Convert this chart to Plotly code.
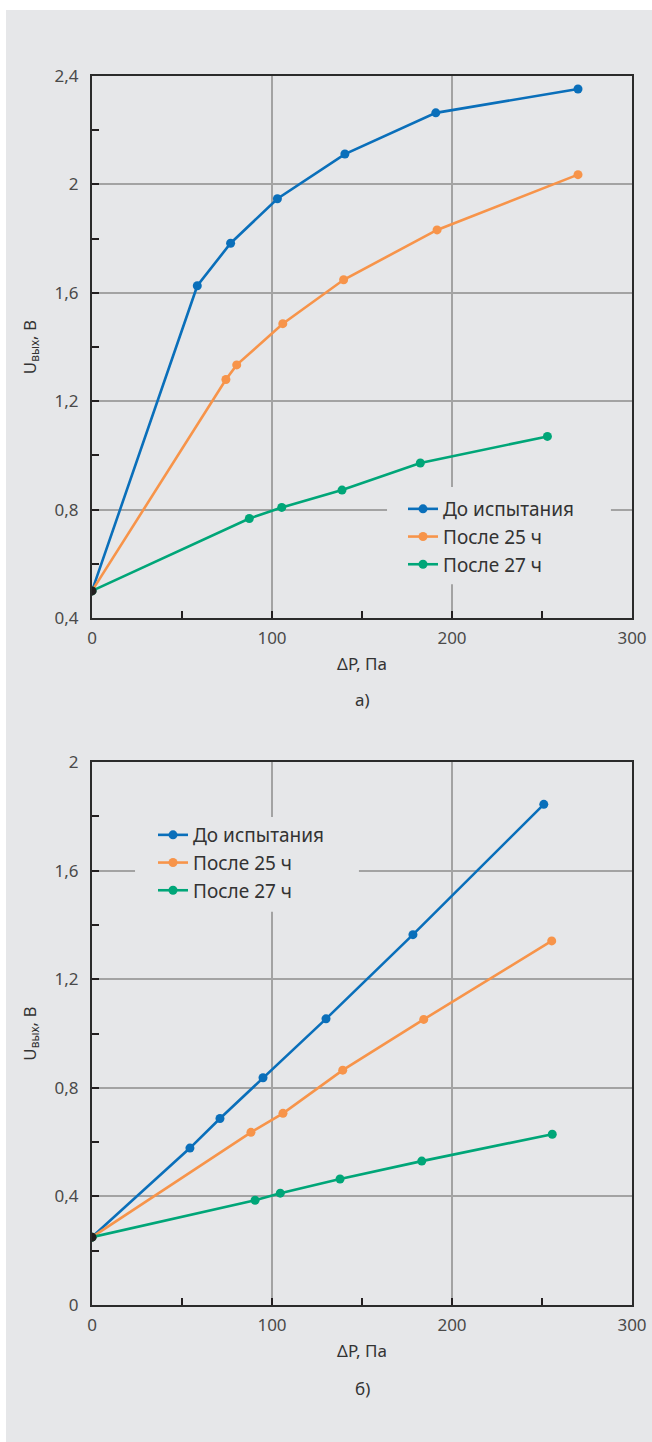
import plotly.graph_objects as go

series_names = ["До испытания", "После 25 ч", "После 27 ч"]
series_colors = ["#0a6fba", "#f7944a", "#00a678"]

# Chart а)
a_blue_x = [0, 58.5, 77, 103, 140.5, 191, 270]
a_blue_y = [0.5, 1.626, 1.783, 1.947, 2.112, 2.264, 2.352]
a_orange_x = [0, 74.4, 80.4, 106, 139.8, 191.7, 270]
a_orange_y = [0.5, 1.28, 1.334, 1.486, 1.648, 1.832, 2.036]
a_green_x = [0, 87.4, 105.4, 138.9, 182.4, 253]
a_green_y = [0.5, 0.767, 0.808, 0.872, 0.972, 1.07]

# Chart б)
b_blue_x = [0, 54.4, 71.1, 95, 130, 178.3, 251]
b_blue_y = [0.25, 0.578, 0.687, 0.837, 1.054, 1.364, 1.844]
b_orange_x = [0, 88.3, 106.1, 139.3, 184.3, 255.4]
b_orange_y = [0.25, 0.636, 0.706, 0.865, 1.052, 1.341]
b_green_x = [0, 90.6, 104.6, 137.8, 183.2, 255.7]
b_green_y = [0.25, 0.386, 0.412, 0.464, 0.53, 0.629]

x_title = "ΔP, Па"
y_title = "U<sub>вых</sub>, В"
panel_labels = ["а)", "б)"]

BG = "#e6e7e9"
FONT = "Noto Sans"

fig = go.Figure()

a_sets = [(a_blue_x, a_blue_y), (a_orange_x, a_orange_y), (a_green_x, a_green_y)]
b_sets = [(b_blue_x, b_blue_y), (b_orange_x, b_orange_y), (b_green_x, b_green_y)]

for sets, xa, ya, leg in [(a_sets, "x", "y", "legend"), (b_sets, "x2", "y2", "legend2")]:
    for i, (xs, ys) in enumerate(sets):
        fig.add_trace(go.Scatter(
            x=xs, y=ys, mode="lines+markers", name=series_names[i],
            line=dict(color=series_colors[i], width=2.6),
            marker=dict(color=series_colors[i], size=9),
            xaxis=xa, yaxis=ya, legend=leg, legendgroup=f"{leg}{i}",
        ))
    # common start point (black dot)
    fig.add_trace(go.Scatter(
        x=[sets[0][0][0]], y=[sets[0][1][0]], mode="markers",
        marker=dict(color="#231f20", size=9), showlegend=False,
        xaxis=xa, yaxis=ya, hoverinfo="skip",
    ))

L, R, T, B = 92, 20, 76, 137
W, H = 652, 1442
plot_w = W - L - R           # 540
plot_h = H - T - B           # 1229
bottom_px = H - B            # 1305
top_dom = [(bottom_px - 618) / plot_h, 1.0]
bot_dom = [0.0, (bottom_px - 762) / plot_h]

TICK_FONT = dict(family=FONT, size=17, color="#4a4a4a")
TITLE_FONT = dict(family=FONT, size=17, color="#333333")

def xaxis(anchor):
    return dict(
        domain=[0, 1], anchor=anchor, range=[0, 300], dtick=100,
        showgrid=True, gridcolor="#a3a3a3", gridwidth=1.6,
        showline=True, linecolor="#2b2b2b", linewidth=2, mirror=True,
        ticks="inside", ticklen=7, tickwidth=2, tickcolor="#231f20",
        minor=dict(dtick=50, ticks="inside", ticklen=7, tickwidth=2,
                   tickcolor="#231f20", showgrid=False),
        tickfont=TICK_FONT, ticklabelstandoff=4, ticklabeloverflow="allow",
        title=dict(text=x_title, font=TITLE_FONT, standoff=10),
        zeroline=False, fixedrange=True, automargin=False,
    )

def yaxis(dom, anchor, rng):
    return dict(
        domain=dom, anchor=anchor, range=rng, dtick=0.4, tick0=0,
        showgrid=True, gridcolor="#a3a3a3", gridwidth=1.6,
        showline=True, linecolor="#2b2b2b", linewidth=2, mirror=True,
        ticks="inside", ticklen=7, tickwidth=2, tickcolor="#231f20",
        minor=dict(dtick=0.2, tick0=0, ticks="inside", ticklen=7, tickwidth=2,
                   tickcolor="#231f20", showgrid=False),
        tickfont=TICK_FONT, ticklabelstandoff=8, ticklabeloverflow="allow",
        title=dict(text=y_title, font=TITLE_FONT, standoff=14),
        zeroline=False, fixedrange=True, automargin=False,
    )

legend_style = dict(
    bgcolor="rgba(0,0,0,0)", borderwidth=0,
    font=dict(family=FONT, size=19, color="#333333"),
    tracegroupgap=0, itemwidth=30, xanchor="left", yanchor="top",
)

def px_x(p):
    return (p - L) / plot_w

def px_y(p):
    return (bottom_px - p) / plot_h

fig.update_layout(
    width=W, height=H,
    margin=dict(l=L, r=R, t=T, b=B, autoexpand=False),
    paper_bgcolor=BG, plot_bgcolor=BG,
    separators=", ",
    xaxis=xaxis("y"),
    yaxis=yaxis(top_dom, "x", [0.4, 2.4]),
    xaxis2=xaxis("y2"),
    yaxis2=yaxis(bot_dom, "x2", [0, 2]),
    legend=dict(x=px_x(403), y=px_y(490), **legend_style),
    legend2=dict(x=px_x(153), y=px_y(816), **legend_style),
    showlegend=True,
    shapes=[
        # gaps in gridlines behind legends
        dict(type="rect", xref="x", yref="y", x0=163.9, x1=288.3, y0=0.525, y1=0.883,
             fillcolor=BG, line=dict(width=0), layer="between"),
        dict(type="rect", xref="x2", yref="y2", x0=23.9, x1=148.3, y0=1.448, y1=1.797,
             fillcolor=BG, line=dict(width=0), layer="between"),
        # white page strips (left and top)
        dict(type="rect", xref="paper", yref="paper", x0=px_x(-2), x1=px_x(6),
             y0=px_y(H + 2), y1=px_y(-2), fillcolor="white", line=dict(width=0), layer="below"),
        dict(type="rect", xref="paper", yref="paper", x0=px_x(-2), x1=px_x(W + 2),
             y0=px_y(10), y1=px_y(-2), fillcolor="white", line=dict(width=0), layer="below"),
    ],
    annotations=[
        dict(text=panel_labels[0], xref="paper", yref="paper", x=0.5, y=px_y(700),
             showarrow=False, font=TITLE_FONT, yanchor="middle"),
        dict(text=panel_labels[1], xref="paper", yref="paper", x=0.5, y=px_y(1388),
             showarrow=False, font=TITLE_FONT, yanchor="middle"),
    ],
)

fig.write_html(
    "out.html",
    config={"displayModeBar": False},
    post_script="document.body.style.margin='0';document.body.style.overflow='hidden';",
)
